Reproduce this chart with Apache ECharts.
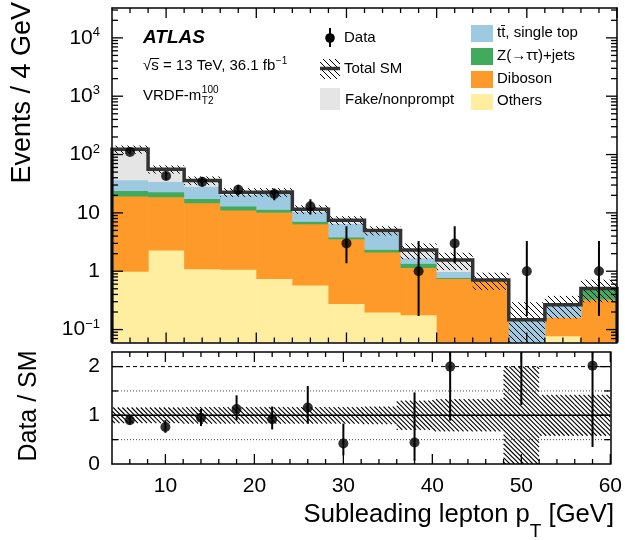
<!DOCTYPE html>
<html><head><meta charset="utf-8">
<script src="https://cdn.jsdelivr.net/npm/echarts@6.0.0/dist/echarts.min.js"></script>
<style>html,body{margin:0;padding:0;background:#fff;}#chart{width:625px;height:540px;}</style>
</head><body><div id="chart"></div>
<script>
// ---------------- data ----------------
const binEdges = [4, 8, 12, 16, 20, 24, 28, 32, 36, 40, 44, 48, 52, 56, 60];
const others   = [1.0, 2.3, 1.1, 1.08, 0.75, 0.58, 0.28, 0.20, 0.18, 0, 0, 0, 0.078, 0];
const diboson  = [18.4, 16.6, 13.8, 10.1, 9.55, 5.92, 3.32, 1.94, 0.98, 0.75, 0.70, 0, 0.084, 0.332];
const zjets    = [4.9, 4.1, 2.8, 1.9, 1.2, 0.7, 0.26, 0.24, 0.21, 0.03, 0, 0, 0, 0.174];
const ttbar    = [12.7, 12.0, 11.0, 7.6, 10.3, 3.4, 2.74, 2.22, 0.34, 0.21, 0, 0.147, 0.104, 0];
const fake     = [86, 21, 7.3, 2.0, 0.9, 0.9, 0.9, 0.4, 0.59, 0.57, 0.01, 0, 0, 0];
const sysUnc   = [0.16, 0.16, 0.17, 0.17, 0.17, 0.17, 0.17, 0.18, 0.30, 0.33, 0.33, 1.0, 0.42, 0.42];
const dataVals = [111, 43, 34, 25, 21, 13, 3, null, 1, 3, null, 1, null, 1];
const dataLo   = [101, 36.5, 28.2, 20.1, 16.5, 9.4, 1.37, null, 0.17, 1.37, null, 0.17, null, 0.17];
const dataHi   = [122, 50.3, 40.7, 30.5, 26.3, 17.1, 5.92, null, 3.3, 5.92, null, 3.3, null, 3.3];
const ratioVals = [0.90, 0.76, 0.95, 1.13, 0.92, 1.16, 0.42, null, 0.44, 2.0, null, 6.8, null, 2.02];
const ratioLo   = [0.81, 0.64, 0.78, 0.90, 0.71, 0.83, 0.18, null, 0.07, 0.89, null, 1.21, null, 0.35];
const ratioHi   = [0.99, 0.90, 1.13, 1.41, 1.18, 1.60, 0.83, null, 1.47, 3.8, null, 22, null, 6.6];
const xTickLabels = [10, 20, 30, 40, 50, 60];
const yTickLabels = [0.1, 1, 10, 100, 1000, 10000];
const ratioTickLabels = [0, 1, 2];
const ratioMinorTicks = [0.5, 1.5];
const ratioRefLines = [0.5, 1, 1.5, 2];

// ---------------- layout / style ----------------
const FONT = '"Liberation Sans", Arial, Helvetica, sans-serif';
const YMIN = 0.06, YMAX = 32500;
const RMIN = 0, RMAX = 2.3;
const XMIN = binEdges[0], XMAX = binEdges[binEdges.length - 1];
const nb = binEdges.length - 1;
const centers = binEdges.slice(0, -1).map((e, i) => (e + binEdges[i + 1]) / 2);
const xMinor = []; for (let v = XMIN + 2; v < XMAX; v += 2) if (xTickLabels.indexOf(v) < 0) xMinor.push(v);
const yMinor = [];
for (let d = -2; d <= 4; d++) for (let m = 2; m <= 9; m++) { const v = m * Math.pow(10, d); if (v > YMIN && v < YMAX) yMinor.push(v); }

const measure = document.createElement('canvas').getContext('2d');
function tw(t, size, weight, style) { measure.font = (style || 'normal') + ' ' + (weight || 'normal') + ' ' + size + 'px ' + FONT; return measure.measureText(t).width; }

const layers = [
  { vals: others,  color: '#ffeda0' },
  { vals: diboson, color: '#fd9a2a' },
  { vals: zjets,   color: '#41ab5d' },
  { vals: ttbar,   color: '#9ecae1' },
  { vals: fake,    color: '#e5e5e5' }
];

const series = [];
const cum = new Array(nb).fill(0);
layers.forEach(L => {
  const d = [];
  for (let i = 0; i < nb; i++) {
    const lo = cum[i]; cum[i] += L.vals[i];
    if (L.vals[i] > 0) d.push([binEdges[i], binEdges[i + 1], lo, cum[i]]);
  }
  series.push({
    type: 'custom', xAxisIndex: 0, yAxisIndex: 0, clip: true, z: 2, silent: true,
    encode: { x: [0, 1], y: [3] }, data: d,
    renderItem: (p, api) => {
      const lo = Math.max(api.value(2), YMIN * 0.5), hi = api.value(3);
      const a = api.coord([api.value(0), hi]);
      const b = api.coord([api.value(1), lo]);
      return { type: 'rect', shape: { x: a[0], y: a[1], width: b[0] - a[0] + 0.6, height: b[1] - a[1] + 0.5 }, style: { fill: L.color } };
    }
  });
});
const total = cum.slice();

function hatchRender(spacing, lw, logLow) {
  return (p, api) => {
    let lo = api.value(2); const hi = api.value(3);
    if (logLow && lo <= 0) lo = YMIN * 0.5;
    const a = api.coord([api.value(0), hi]);
    const b = api.coord([api.value(1), lo]);
    const L = a[0], R = b[0], T = a[1], B = b[1];
    const children = [];
    const c0 = Math.ceil((L - B) / spacing) * spacing;
    for (let c = c0; c <= R - T; c += spacing) {
      const y0 = Math.max(T, L - c), y1 = Math.min(B, R - c);
      if (y1 > y0) children.push({ type: 'line', shape: { x1: y0 + c, y1: y0, x2: y1 + c, y2: y1 }, style: { stroke: '#000', lineWidth: lw } });
    }
    return { type: 'group', children };
  };
}

series.push({
  type: 'custom', xAxisIndex: 0, yAxisIndex: 0, clip: true, z: 3, silent: true,
  encode: { x: [0, 1], y: [3] },
  data: total.map((t, i) => [binEdges[i], binEdges[i + 1], t * (1 - sysUnc[i]), t * (1 + sysUnc[i])]),
  renderItem: hatchRender(6, 1, true)
});
const totalLine = [[XMIN, YMIN]];
for (let i = 0; i < nb; i++) totalLine.push([binEdges[i], total[i]]);
totalLine.push([XMAX, total[nb - 1]]);
totalLine.push([XMAX, YMIN]);
series.push({ type: 'line', xAxisIndex: 0, yAxisIndex: 0, step: 'end', data: totalLine, symbol: 'none', silent: true, clip: true, z: 4,
  lineStyle: { color: '#333', width: 3.5, join: 'miter' } });

function errSeries(vals, lo, hi, xi, yi) {
  const d = [];
  vals.forEach((v, i) => { if (v != null) d.push([centers[i], lo[i], hi[i]]); });
  return { type: 'custom', xAxisIndex: xi, yAxisIndex: yi, clip: true, z: 5, silent: true,
    encode: { x: 0, y: [1, 2] }, data: d,
    renderItem: (p, api) => {
      const a = api.coord([api.value(0), api.value(1)]);
      const b = api.coord([api.value(0), api.value(2)]);
      return { type: 'line', shape: { x1: a[0], y1: a[1], x2: b[0], y2: b[1] }, style: { stroke: '#000', lineWidth: 2 } };
    } };
}
function ptSeries(vals, xi, yi) {
  const d = [];
  vals.forEach((v, i) => { if (v != null) d.push([centers[i], v]); });
  return { type: 'scatter', xAxisIndex: xi, yAxisIndex: yi, data: d, symbol: 'circle', symbolSize: 10, clip: true, z: 6, silent: true,
    itemStyle: { color: '#000' } };
}
series.push(errSeries(dataVals, dataLo, dataHi, 0, 0));
series.push(ptSeries(dataVals, 0, 0));

series.push({
  type: 'custom', xAxisIndex: 2, yAxisIndex: 2, clip: true, z: 2, silent: true,
  encode: { x: [0, 1], y: [2, 3] },
  data: sysUnc.map((u, i) => [binEdges[i], binEdges[i + 1], 1 - u, 1 + u]),
  renderItem: hatchRender(4.6, 1.1, false)
});
series.push({
  type: 'custom', xAxisIndex: 2, yAxisIndex: 2, clip: true, z: 3, silent: true,
  encode: { x: [0, 2], y: 1 },
  data: ratioRefLines.map(v => [XMIN, v, XMAX]),
  renderItem: (p, api) => {
    const y = api.value(1);
    const a = api.coord([api.value(0), y]);
    const b = api.coord([api.value(2), y]);
    let st;
    if (y === 1) st = { stroke: '#000', lineWidth: 1.5 };
    else if (y === 2) st = { stroke: '#000', lineWidth: 1, lineDash: [4, 3] };
    else st = { stroke: '#444', lineWidth: 1, lineDash: [1, 2] };
    return { type: 'line', shape: { x1: a[0], y1: a[1], x2: b[0], y2: b[1] }, style: st };
  }
});
series.push(errSeries(ratioVals, ratioLo, ratioHi, 2, 2));
series.push(ptSeries(ratioVals, 2, 2));

// tick marks (inside, all four sides), placed through the axes' scales
function tickSeries(xi, yi, yLo, yHi, yMajor, yMinorArr) {
  const d = [];
  xTickLabels.forEach(v => { d.push([v, yLo, 0, 10]); d.push([v, yHi, 1, 10]); });
  xMinor.forEach(v => { d.push([v, yLo, 0, 5]); d.push([v, yHi, 1, 5]); });
  yMajor.forEach(v => { d.push([XMIN, v, 2, 11]); d.push([XMAX, v, 3, 11]); });
  yMinorArr.forEach(v => { d.push([XMIN, v, 2, 6]); d.push([XMAX, v, 3, 6]); });
  return { type: 'custom', xAxisIndex: xi, yAxisIndex: yi, clip: false, z: 12, silent: true,
    encode: { x: 0, y: 1 }, data: d,
    renderItem: (p, api) => {
      const pt = api.coord([api.value(0), api.value(1)]);
      const side = api.value(2), len = api.value(3);
      let dx = 0, dy = 0;
      if (side === 0) dy = -len; else if (side === 1) dy = len; else if (side === 2) dx = len; else dx = -len;
      return { type: 'line', shape: { x1: pt[0], y1: pt[1], x2: pt[0] + dx, y2: pt[1] + dy }, style: { stroke: '#000', lineWidth: 1.3 } };
    } };
}
series.push(tickSeries(0, 0, YMIN, YMAX, yTickLabels, yMinor));
series.push(tickSeries(2, 2, RMIN, RMAX, ratioTickLabels.slice(1), ratioMinorTicks));

function xa(gi, pos, labels) {
  return { type: 'value', gridIndex: gi, position: pos, min: XMIN, max: XMAX, z: 10,
    axisLine: { show: true, onZero: false, lineStyle: { color: '#000', width: 1.5 } },
    axisTick: { show: false },
    axisLabel: labels ? { show: true, customValues: xTickLabels, margin: 12, fontSize: 21, fontFamily: FONT, color: '#000' } : { show: false },
    splitLine: { show: false } };
}
const logRich = {
  b: { fontSize: 21, fontFamily: FONT, color: '#000', lineHeight: 24 },
  e: { fontSize: 13, fontFamily: FONT, color: '#000', lineHeight: 13, verticalAlign: 'top' }
};
function logFmt(v) {
  const e = Math.round(Math.log10(v));
  if (e === 0) return '{b|1}';
  if (e === 1) return '{b|10}';
  return '{b|10}{e|' + (e < 0 ? '\u2212' : '') + Math.abs(e) + '}';
}
function yaMain(pos, labels) {
  return { type: 'log', logBase: 10, gridIndex: 0, position: pos, min: YMIN, max: YMAX, z: 10,
    axisLine: { show: true, onZero: false, lineStyle: { color: '#000', width: 1.5 } },
    axisTick: { show: false },
    axisLabel: labels ? { show: true, customValues: yTickLabels, margin: 12, formatter: logFmt, rich: logRich } : { show: false },
    splitLine: { show: false }, minorTick: { show: false } };
}
function yaRatio(pos, labels) {
  return { type: 'value', gridIndex: 1, position: pos, min: RMIN, max: RMAX, z: 10,
    axisLine: { show: true, onZero: false, lineStyle: { color: '#000', width: 1.5 } },
    axisTick: { show: false },
    axisLabel: labels ? { show: true, customValues: ratioTickLabels, margin: 12, fontSize: 21, fontFamily: FONT, color: '#000' } : { show: false },
    splitLine: { show: false } };
}

const G = [];
function txt(x, y, t, size, opt) {
  opt = opt || {};
  G.push({ type: 'text', x: x, y: y, rotation: opt.rot || 0, silent: true, z: 20,
    style: { text: t, fontSize: size, fontFamily: FONT, fontWeight: opt.weight || 'normal', fontStyle: opt.style || 'normal',
      fill: '#000', align: opt.align || 'left', verticalAlign: 'middle' } });
}
function rect(x, y, w, h, fill) { G.push({ type: 'rect', silent: true, z: 20, shape: { x, y, width: w, height: h }, style: { fill } }); }
function seg(x1, y1, x2, y2, stroke, lw) { G.push({ type: 'line', silent: true, z: 20, shape: { x1, y1, x2, y2 }, style: { stroke, lineWidth: lw } }); }
function hatchBox(L, T, R, B, s) {
  const c0 = Math.ceil((L - B) / s) * s;
  for (let c = c0; c <= R - T; c += s) {
    const y0 = Math.max(T, L - c), y1 = Math.min(B, R - c);
    if (y1 > y0) seg(y0 + c, y0, y1 + c, y1, '#000', 1);
  }
}

txt(143, 38, 'ATLAS', 19, { weight: 'bold', style: 'italic' });
const sline = '\u221As = 13 TeV, 36.1 fb';
txt(143, 66, sline, 15);
txt(143 + tw(sline, 15) + 0.5, 61, '\u22121', 10);
const wr = tw('\u221A', 15), wsx = tw('s', 15);
seg(143 + wr - 0.5, 58.5, 143 + wr + wsx + 0.5, 58.5, '#000', 1);
const vr = 'VRDF-m';
txt(143, 96, vr, 15);
txt(143 + tw(vr, 15) + 0.5, 90, '100', 10);
txt(143 + tw(vr, 15) + 0.5, 101, 'T2', 10);

seg(330, 28, 330, 47, '#000', 2);
G.push({ type: 'circle', silent: true, z: 21, shape: { cx: 330, cy: 38, r: 4.8 }, style: { fill: '#000' } });
txt(344, 38, 'Data', 15);
hatchBox(320, 59, 340, 79, 6);
seg(320, 68.5, 340, 68.5, '#333', 3.5);
txt(344, 69, 'Total SM', 15);
rect(320, 88, 20, 22, '#e5e5e5');
txt(345, 100, 'Fake/nonprompt', 15);
rect(471, 25, 22, 17, '#9ecae1'); txt(497, 33, 'tt\u0304, single top', 15);
rect(471, 48, 22, 17, '#41ab5d'); txt(497, 56, 'Z(\u2192\u03C4\u03C4)+jets', 15);
rect(471, 71, 22, 17, '#fd9a2a'); txt(497, 79, 'Diboson', 15);
rect(471, 94, 22, 16, '#ffeda0'); txt(497, 101, 'Others', 15);

txt(23, 2, 'Events / 4 GeV', 27, { rot: Math.PI / 2, align: 'right' });
txt(29, 406, 'Data / SM', 25, { rot: Math.PI / 2, align: 'center' });
const xr = 614, w1 = tw(' [GeV]', 25.6), w2 = tw('T', 19);
txt(xr, 515, ' [GeV]', 25.6, { align: 'right' });
txt(xr - w1, 532, 'T', 19, { align: 'right' });
txt(xr - w1 - w2, 515, 'Subleading lepton p', 25.6, { align: 'right' });

const option = {
  animation: false,
  backgroundColor: '#fff',
  grid: [
    { left: 112, right: 8, top: 8, height: 334.5, containLabel: false },
    { left: 112, right: 8, top: 352, height: 112, containLabel: false }
  ],
  xAxis: [ xa(0, 'bottom', false), xa(0, 'top', false), xa(1, 'bottom', true), xa(1, 'top', false) ],
  yAxis: [ yaMain('left', true), yaMain('right', false), yaRatio('left', true), yaRatio('right', false) ],
  series: series,
  graphic: { elements: G }
};
const chart = echarts.init(document.getElementById('chart'), null, { renderer: 'canvas' });
chart.setOption(option);
</script></body></html>
